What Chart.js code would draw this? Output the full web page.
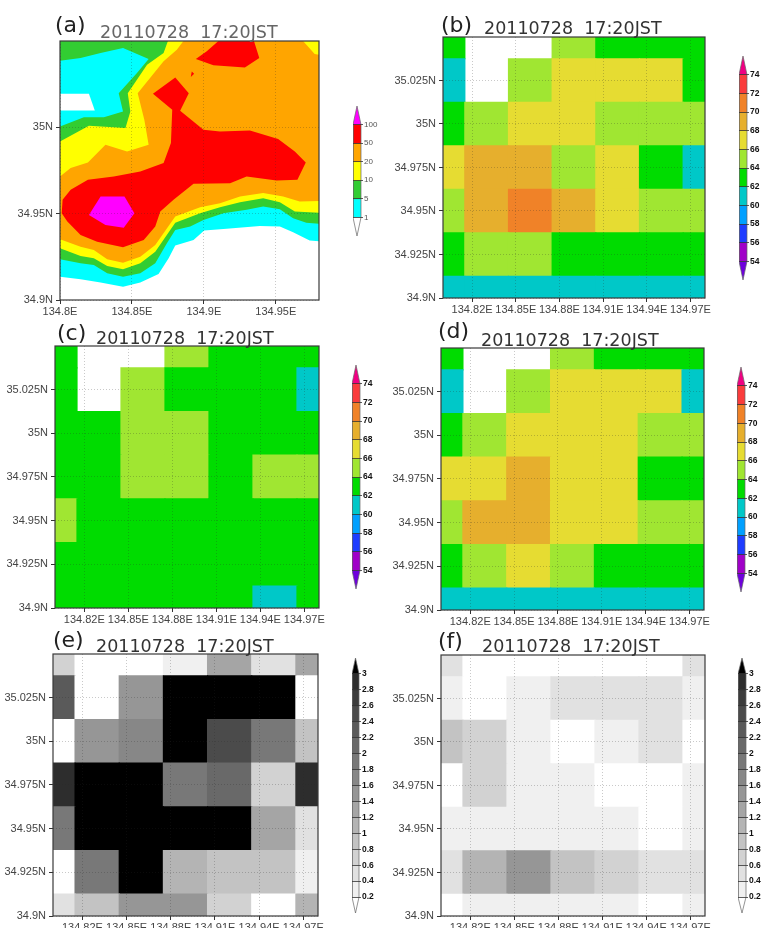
<!DOCTYPE html>
<html>
<head>
<meta charset="utf-8">
<title>20110728 17:20JST</title>
<script src="https://cdn.jsdelivr.net/npm/chart.js@4"></script>
<style>
  html, body { margin: 0; padding: 0; background: #fff; }
  #page { position: relative; width: 763px; height: 928px; overflow: hidden; filter: blur(0.45px); }
  #page canvas { position: absolute; }
  .tag { position: absolute; font: 22px "DejaVu Sans"; color: #222; line-height: 26px; white-space: pre; }
  .when { position: absolute; font: 17.5px "DejaVu Sans"; color: #333; line-height: 20px; white-space: pre; }
</style>
</head>
<body>
<div id="page"></div>
<script>
// grid of the model output, rows run north to south
const lons = [134.8, 134.83, 134.86, 134.89, 134.92, 134.95, 134.98];
const lats = [35.05, 35.025, 35, 34.975, 34.95, 34.925, 34.9];

const xTicksA = [134.8, 134.85, 134.9, 134.95];
const xLabelsA = ["134.8E", "134.85E", "134.9E", "134.95E"];
const yTicksA = [34.9, 34.95, 35];
const yLabelsA = ["34.9N", "34.95N", "35N"];
const xTicks = [134.82, 134.85, 134.88, 134.91, 134.94, 134.97];
const xLabels = ["134.82E", "134.85E", "134.88E", "134.91E", "134.94E", "134.97E"];
const yTicks = [34.9, 34.925, 34.95, 34.975, 35, 35.025];
const yLabels = ["34.9N", "34.925N", "34.95N", "34.975N", "35N", "35.025N"];
const timeLabel = "20110728  17:20JST";

const rainLevels = [1, 5, 10, 20, 50, 100];
const rainLabels = ["1", "5", "10", "20", "50", "100"];
const rainColors = ["#ffffff", "#00ffff", "#32cd32", "#ffff00", "#ffa500", "#ff0000", "#ff00ff"];

const tempLevels = [54, 56, 58, 60, 62, 64, 66, 68, 70, 72, 74];
const tempLabels = ["54", "56", "58", "60", "62", "64", "66", "68", "70", "72", "74"];
const tempColors = ["#6e00dc", "#a000c8", "#1e3cff", "#00a0ff", "#00c8c8", "#00dc00", "#a0e632", "#e6dc32", "#e6af2d", "#f08228", "#fa3c3c", "#f00082"];

const spreadLevels = [0.2, 0.4, 0.6, 0.8, 1, 1.2, 1.4, 1.6, 1.8, 2, 2.2, 2.4, 2.6, 2.8, 3];
const spreadLabels = ["0.2", "0.4", "0.6", "0.8", "1", "1.2", "1.4", "1.6", "1.8", "2", "2.2", "2.4", "2.6", "2.8", "3"];
const spreadColors = ["#ffffff", "#f0f0f0", "#e1e1e1", "#d2d2d2", "#c3c3c3", "#b4b4b4", "#a5a5a5", "#969696", "#878787", "#787878", "#696969", "#5a5a5a", "#4b4b4b", "#3c3c3c", "#2d2d2d", "#000000"];

// (a) rain contours, [lon, lat]
const rainAbove1 = [[134.8,34.9135],[134.8143,34.912],[134.8282,34.9101],[134.8438,34.9077],[134.8558,34.9101],[134.8685,34.9151],[134.8755,34.9242],[134.8801,34.9315],[134.8928,34.9348],[134.9002,34.9402],[134.9158,34.9412],[134.9389,34.9429],[134.9528,34.9425],[134.962,34.9392],[134.9735,34.9344],[134.98,34.934],[134.98,35.05],[134.8,35.05]];
const rainHole = [[134.8,35.0195],[134.8201,35.0195],[134.8242,35.0098],[134.8,35.0098]];
const rainAbove5 = [[134.8,34.9236],[134.8143,34.9213],[134.8235,34.9203],[134.8328,34.9155],[134.8438,34.9135],[134.8558,34.9155],[134.8662,34.9213],[134.8743,34.9329],[134.8801,34.9406],[134.8905,34.9425],[134.8997,34.9464],[134.9135,34.9503],[134.9297,34.9522],[134.9412,34.9541],[134.9528,34.9526],[134.962,34.9474],[134.9712,34.9448],[134.98,34.9441],[134.98,35.05],[134.8,35.05],[134.8,35.0386],[134.8143,35.0401],[134.8282,35.043],[134.8438,35.0459],[134.8616,35.0396],[134.8535,35.0314],[134.8408,35.0198],[134.8438,35.0092],[134.8305,35.0059],[134.8166,35.0059],[134.8,35.0005]];
const rainAbove10 = [[134.8,34.93],[134.8143,34.9255],[134.8235,34.9242],[134.8328,34.9197],[134.8438,34.9178],[134.8558,34.9213],[134.8662,34.928],[134.8801,34.9448],[134.8974,34.9503],[134.9112,34.9537],[134.9251,34.9566],[134.9412,34.959],[134.9528,34.9566],[134.9632,34.9512],[134.98,34.9506],[134.98,35.05],[134.875,35.05],[134.872,35.043],[134.8605,35.0363],[134.8471,35.0198],[134.8489,35.0092],[134.8455,34.9996],[134.8201,35.0009],[134.8,34.9918]];
const rainAbove20 = [[134.8,34.9352],[134.8143,34.9309],[134.8235,34.929],[134.8328,34.9236],[134.8438,34.9216],[134.8558,34.9251],[134.8662,34.9319],[134.8801,34.9483],[134.8974,34.9537],[134.9112,34.9561],[134.9251,34.9599],[134.9412,34.9619],[134.9551,34.9599],[134.9666,34.957],[134.98,34.9574],[134.98,35.0421],[134.977,35.0425],[134.9689,35.05],[134.8858,35.05],[134.8812,35.045],[134.872,35.0382],[134.854,35.0198],[134.8586,35.0044],[134.8616,34.9899],[134.8466,34.986],[134.8316,34.9899],[134.8194,34.9796],[134.8074,34.9764],[134.8,34.9715]];
const rainAbove50 = [[134.8012,34.9503],[134.8018,34.958],[134.8074,34.9638],[134.8194,34.9696],[134.8374,34.9715],[134.8558,34.9744],[134.872,34.9793],[134.8771,34.9909],[134.878,35.0102],[134.8646,35.0195],[134.8801,35.0289],[134.8895,35.0198],[134.8835,35.0096],[134.8997,34.9986],[134.9112,34.9976],[134.932,34.9982],[134.9516,34.9932],[134.9632,34.986],[134.9708,34.9796],[134.965,34.9696],[134.9505,34.9692],[134.9297,34.9715],[134.9182,34.9676],[134.8928,34.9673],[134.8789,34.958],[134.8697,34.9512],[134.8662,34.9425],[134.8582,34.9348],[134.8438,34.9305],[134.8258,34.9338],[134.8143,34.9377],[134.8051,34.9454]];
const rainTop50 = [[134.9101,35.05],[134.902,35.044],[134.8944,35.0396],[134.9066,35.0359],[134.9285,35.0347],[134.9385,35.0401],[134.9348,35.05]];
const rainSpot50 = [[134.8916,35.0324],[134.8932,35.0311],[134.8909,35.0291]];
const rainAbove100 = [[134.8282,34.9599],[134.8448,34.9599],[134.8517,34.9503],[134.8443,34.9419],[134.8316,34.9435],[134.8201,34.9493]];

// (b) to (f), one row per latitude, null where nothing was plotted
const tempB = [
  [63, null, null, 65, 63, 63, 63],
  [61, null, 65, 67, 67, 67, 63],
  [63, 65, 67, 67, 65, 65, 65],
  [67, 69, 69, 65, 67, 63, 61],
  [65, 69, 71, 69, 67, 65, 65],
  [63, 65, 65, 63, 63, 63, 63],
  [61, 61, 61, 61, 61, 61, 61]
];
const tempC = [
  [63, null, null, 65, 63, 63, 63],
  [63, null, 65, 63, 63, 63, 61],
  [63, 63, 65, 65, 63, 63, 63],
  [63, 63, 65, 65, 63, 65, 65],
  [65, 63, 63, 63, 63, 63, 63],
  [63, 63, 63, 63, 63, 63, 63],
  [63, 63, 63, 63, 63, 61, 63]
];
const tempD = [
  [63, null, null, 65, 63, 63, 63],
  [61, null, 65, 67, 67, 67, 61],
  [63, 65, 67, 67, 67, 65, 65],
  [67, 67, 69, 67, 67, 63, 63],
  [65, 69, 69, 67, 67, 65, 65],
  [63, 65, 67, 65, 63, 63, 63],
  [61, 61, 61, 61, 61, 61, 61]
];
const spreadE = [
  [0.7, 0.1, 0.1, 0.3, 1.3, 0.5, 1.3],
  [2.3, 0.1, 1.5, 3.5, 3.5, 3.5, 0.1],
  [0.1, 1.5, 1.7, 3.5, 2.5, 1.9, 0.9],
  [2.9, 3.5, 3.5, 1.9, 2.1, 0.7, 2.9],
  [1.9, 3.5, 3.5, 3.5, 3.5, 1.3, 0.5],
  [0.1, 1.9, 3.5, 1.1, 0.9, 0.9, 0.3],
  [0.5, 0.9, 1.5, 1.5, 0.7, 0.1, 1.1]
];
const spreadF = [
  [0.5, 0.1, 0.1, 0.1, 0.1, 0.1, 0.5],
  [0.3, 0.1, 0.3, 0.5, 0.5, 0.5, 0.3],
  [0.9, 0.7, 0.3, 0.1, 0.3, 0.5, 0.1],
  [0.1, 0.7, 0.3, 0.3, 0.1, 0.1, 0.3],
  [0.3, 0.3, 0.3, 0.3, 0.3, 0.1, 0.3],
  [0.5, 1.1, 1.5, 0.9, 0.7, 0.5, 0.5],
  [0.1, 0.3, 0.3, 0.3, 0.3, 0.1, 0.3]
];

const page = document.getElementById("page");
// the scales reserve half a label past their ends, so keep the margins above that
const AXIS_W = 52, AXIS_H = 24, PAD = 12, BAR_PAD = 8;

function addCanvas(left, top, w, h) {
  const c = document.createElement("canvas");
  c.width = w;
  c.height = h;
  c.style.left = left + "px";
  c.style.top = top + "px";
  page.appendChild(c);
  return c;
}

function addText(cls, text, x, y, color) {
  const d = document.createElement("div");
  d.className = cls;
  d.textContent = text;
  d.style.left = x + "px";
  d.style.top = y + "px";
  if (color) d.style.color = color;
  page.appendChild(d);
}

function levelColor(v, levels, colors) {
  let i = 0;
  while (i < levels.length && v >= levels[i]) i++;
  return colors[i];
}

// closes the plot with a box on all four sides
const framePlugin = {
  id: "frame",
  afterDraw(chart) {
    const a = chart.chartArea;
    if (chart.options.plugins.frame.off) return;
    chart.ctx.save();
    chart.ctx.strokeStyle = "#3a3a3a";
    chart.ctx.lineWidth = 1.2;
    chart.ctx.strokeRect(a.left, a.top, a.right - a.left, a.bottom - a.top);
    chart.ctx.restore();
  }
};

function mapAxes(xVals, xText, yVals, yText, color) {
  const common = {
    type: "linear",
    offset: false,
    border: { display: false, dash: [1, 2] },
    ticks: { color: color, font: { family: "Liberation Sans", size: 11 }, maxRotation: 0, autoSkip: false }
  };
  const grid = { z: 1, color: "rgba(40,40,40,0.25)", tickColor: "#333", tickLength: 4, tickBorderDash: [] };
  return {
    x: {
      ...common,
      min: 134.8, max: 134.98,
      grid: { ...grid, offset: false },
      ticks: { ...common.ticks, padding: 1, callback: (v, i) => xText[i] },
      afterBuildTicks: s => { s.ticks = xVals.map(v => ({ value: v })); },
      afterFit: s => { s.height = AXIS_H; }
    },
    y: {
      ...common,
      min: 34.9, max: 35.05,
      grid: grid,
      ticks: { ...common.ticks, padding: 3, callback: (v, i) => yText[i] },
      afterBuildTicks: s => { s.ticks = yVals.map(v => ({ value: v })); },
      afterFit: s => { s.width = AXIS_W; }
    }
  };
}

function mapOptions(scales) {
  return {
    responsive: false,
    animation: false,
    layout: { autoPadding: false, padding: { top: PAD, right: PAD } },
    plugins: { legend: { display: false }, tooltip: { enabled: false }, frame: {} },
    scales: scales
  };
}

function gridPanel(box, values, levels, colors) {
  const cells = [], fills = [];
  values.forEach((row, r) => row.forEach((v, c) => {
    if (v === null) return;
    cells.push({ x: lons[c], y: [lats[r] - 0.0125, lats[r] + 0.0125] });
    fills.push(levelColor(v, levels, colors));
  }));
  const w = box.r - box.l, h = box.b - box.t;
  new Chart(addCanvas(box.l - AXIS_W, box.t - PAD, w + AXIS_W + PAD, h + PAD + AXIS_H), {
    type: "bar",
    data: { datasets: [{ data: cells, backgroundColor: fills, borderWidth: 0, inflateAmount: 0.6, barThickness: w * 0.03 / 0.18 }] },
    options: mapOptions(mapAxes(xTicks, xLabels, yTicks, yLabels, "#444")),
    plugins: [framePlugin]
  });
}

function contourPanel(box, layers) {
  const w = box.r - box.l, h = box.b - box.t;
  // first dataset is painted last, so the lowest class goes to the end
  const sets = layers.slice().reverse().map(l => ({
    data: l.pts.map(p => ({ x: p[0], y: p[1] })),
    showLine: true,
    fill: "shape",
    backgroundColor: l.color,
    borderWidth: 0,
    pointRadius: 0
  }));
  new Chart(addCanvas(box.l - AXIS_W, box.t - PAD, w + AXIS_W + PAD, h + PAD + AXIS_H), {
    type: "scatter",
    data: { datasets: sets },
    options: mapOptions(mapAxes(xTicksA, xLabelsA, yTicksA, yLabelsA, "#444")),
    plugins: [framePlugin]
  });
}

function colorBar(box, levelText, colors, font) {
  const n = levelText.length - 1;
  const w = box.r - box.l, h = box.b - box.t;
  const bins = [], fills = [];
  for (let i = 0; i < n; i++) {
    bins.push({ x: 0.5, y: [i, i + 1] });
    fills.push(colors[i + 1]);
  }
  const triangle = (pts, color) => ({
    type: "scatter", data: pts, showLine: true, fill: "shape",
    backgroundColor: color, borderWidth: 0, pointRadius: 0
  });
  new Chart(addCanvas(box.l, box.t - BAR_PAD, w + 30, h + 2 * BAR_PAD), {
    type: "bar",
    data: {
      datasets: [
        { type: "scatter", showLine: true, clip: false, pointRadius: 0, borderColor: "#666", borderWidth: 0.7,
          data: [{ x: 0, y: 0 }, { x: 0.5, y: -1 }, { x: 1, y: 0 }, { x: 1, y: n }, { x: 0.5, y: n + 1 }, { x: 0, y: n }, { x: 0, y: 0 }] },
        triangle([{ x: 0, y: n }, { x: 1, y: n }, { x: 0.5, y: n + 1 }], colors[n + 1]),
        triangle([{ x: 0, y: 0 }, { x: 1, y: 0 }, { x: 0.5, y: -1 }], colors[0]),
        { data: bins, backgroundColor: fills, borderWidth: 0, barThickness: w }
      ]
    },
    options: {
      responsive: false,
      animation: false,
      layout: { autoPadding: false, padding: { top: BAR_PAD, bottom: BAR_PAD } },
      plugins: { legend: { display: false }, tooltip: { enabled: false }, frame: { off: true } },
      scales: {
        x: { type: "linear", min: 0, max: 1, display: false, offset: false, grid: { offset: false } },
        y: {
          type: "linear", min: -1, max: n + 1, position: "right",
          border: { display: false },
          grid: { z: 1, color: ctx => (ctx.index <= n ? "#333" : "transparent"), tickLength: 2, lineWidth: 0.8 },
          ticks: { color: font.color, font: { family: "Liberation Sans", size: font.size, weight: font.weight }, padding: 1, autoSkip: false, callback: (v, i) => levelText[i] },
          afterBuildTicks: s => { s.ticks = levelText.map((t, i) => ({ value: i })); },
          afterFit: s => { s.width = 30; }
        }
      }
    }
  });
}

const lightFont = { color: "#555", weight: "normal", size: 8 };
const boldFont = { color: "#111", weight: "bold", size: 8.5 };

contourPanel({ l: 60, r: 319, t: 41, b: 300 }, [
  { pts: rainAbove1, color: rainColors[1] },
  { pts: rainHole, color: rainColors[0] },
  { pts: rainAbove5, color: rainColors[2] },
  { pts: rainAbove10, color: rainColors[3] },
  { pts: rainAbove20, color: rainColors[4] },
  { pts: rainAbove50, color: rainColors[5] },
  { pts: rainTop50, color: rainColors[5] },
  { pts: rainSpot50, color: rainColors[5] },
  { pts: rainAbove100, color: rainColors[6] }
]);
gridPanel({ l: 443, r: 705, t: 37, b: 298 }, tempB, tempLevels, tempColors);
gridPanel({ l: 55, r: 319, t: 346, b: 608 }, tempC, tempLevels, tempColors);
gridPanel({ l: 441, r: 704, t: 348, b: 610 }, tempD, tempLevels, tempColors);
gridPanel({ l: 53, r: 318, t: 654, b: 916 }, spreadE, spreadLevels, spreadColors);
gridPanel({ l: 441, r: 705, t: 655, b: 916 }, spreadF, spreadLevels, spreadColors);

colorBar({ l: 353, r: 361, t: 106, b: 236 }, rainLabels, rainColors, lightFont);
colorBar({ l: 739, r: 747, t: 56, b: 280 }, tempLabels, tempColors, boldFont);
colorBar({ l: 352, r: 360, t: 365, b: 589 }, tempLabels, tempColors, boldFont);
colorBar({ l: 737, r: 745, t: 367, b: 592 }, tempLabels, tempColors, boldFont);
colorBar({ l: 352, r: 359, t: 658, b: 913 }, spreadLabels, spreadColors, boldFont);
colorBar({ l: 738, r: 746, t: 658, b: 913 }, spreadLabels, spreadColors, boldFont);

addText("tag", "(a)", 55, 12);
addText("tag", "(b)", 441, 12);
addText("tag", "(c)", 57, 320);
addText("tag", "(d)", 438, 318);
addText("tag", "(e)", 53, 627);
addText("tag", "(f)", 438, 628);
addText("when", timeLabel, 100, 22, "#666");
addText("when", timeLabel, 484, 18);
addText("when", timeLabel, 96, 328);
addText("when", timeLabel, 481, 330);
addText("when", timeLabel, 96, 636);
addText("when", timeLabel, 482, 636);
</script>
</body>
</html>
